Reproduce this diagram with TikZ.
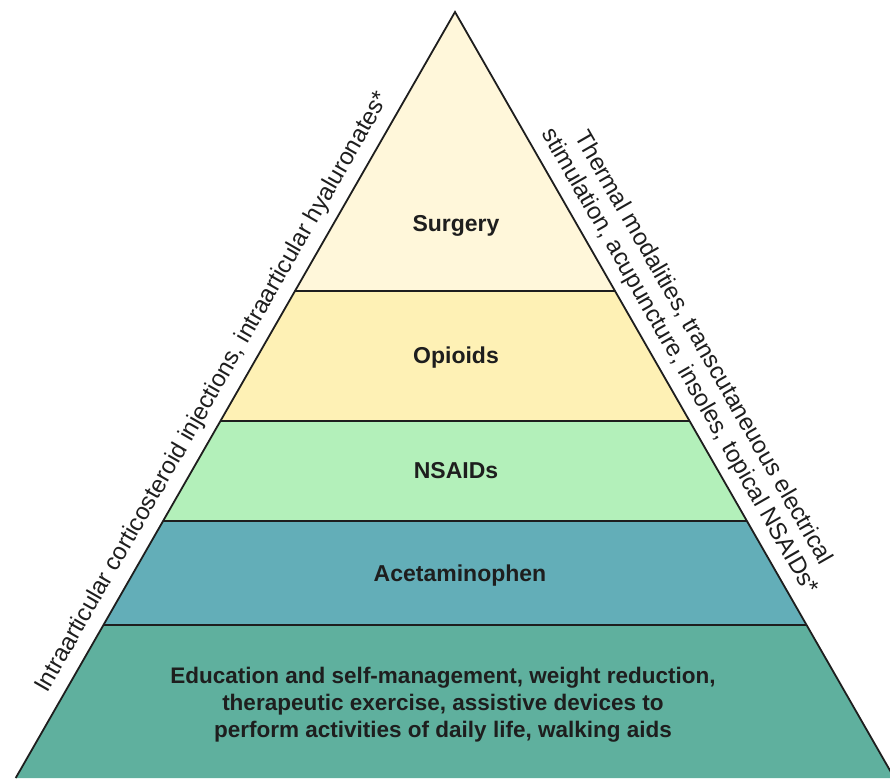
\documentclass[tikz,border=0pt]{standalone}
\usepackage{fontspec}
\setmainfont{Liberation Sans}
\usetikzlibrary{calc}

\definecolor{surgeryfill}{HTML}{FFF7DA}
\definecolor{opioidfill}{HTML}{FEF1B5}
\definecolor{nsaidfill}{HTML}{B3F0BA}
\definecolor{acetfill}{HTML}{63AEB8}
\definecolor{basefill}{HTML}{5FB09E}
\definecolor{edgeline}{HTML}{1E1E1E}

\begin{document}
\begin{tikzpicture}[x=1pt,y=1pt,
    level/.style={font=\bfseries\fontsize{23}{27}\selectfont, align=center, text=edgeline},
    side/.style={font=\fontsize{24}{27}\selectfont, align=center, text=edgeline, sloped}]
    \useasboundingbox (0,0) rectangle (890,778);

    \coordinate (apex) at (455,766);
    \coordinate (bl) at (15.7,0);
    \coordinate (br) at (894.3,0);

    \begin{scope}
      \clip (apex) -- (bl) -- (br) -- cycle;
      \fill[surgeryfill] (0,487) rectangle (890,778);
      \fill[opioidfill] (0,357) rectangle (890,487);
      \fill[nsaidfill] (0,257) rectangle (890,357);
      \fill[acetfill] (0,153) rectangle (890,257);
      \fill[basefill] (0,-5) rectangle (890,153);
      \draw[edgeline, line width=1.8pt] (0,487) -- (890,487);
      \draw[edgeline, line width=1.8pt] (0,357) -- (890,357);
      \draw[edgeline, line width=1.8pt] (0,257) -- (890,257);
      \draw[edgeline, line width=1.8pt] (0,153) -- (890,153);
    \end{scope}
    \draw[edgeline, line width=1.8pt, line join=miter] (bl) -- (apex) -- (br);

    \node[level] (surgery) at (456,552) {Surgery};
    \node[level] (opioids) at (456,420) {Opioids};
    \node[level] (nsaids) at (456,307) {NSAIDs};
    \node[level] (acet) at (460,202) {Acetaminophen};
    \node[level, font=\bfseries\fontsize{22.5}{27}\selectfont] (basic) at (443,73)
      {Education and self-management, weight reduction,\\
      therapeutic exercise, assistive devices to\\
      perform activities of daily life, walking aids};

    \path (bl) -- (apex) node[side, pos=0.49, above=6pt] (inject)
      {Intraarticular corticosteroid injections, intraarticular hyaluronates*};
    \path (apex) -- (br) node[side, pos=0.47, above=6pt] (physical)
      {Thermal modalities, transcutaneuous electrical\\
       stimulation, acupuncture, insoles, topical NSAIDs*};
\end{tikzpicture}
\end{document}
